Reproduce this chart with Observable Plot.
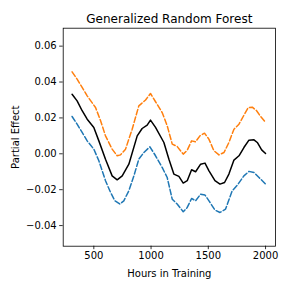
<!DOCTYPE html>
<html>
<head>
<meta charset="utf-8">
<script src="https://cdn.jsdelivr.net/npm/d3@7"></script>
<script src="https://cdn.jsdelivr.net/npm/@observablehq/plot@0.6"></script>
<style>
html,body{margin:0;padding:0;background:#fff;}
</style>
</head>
<body>
<div id="chart"></div>
<script>
const title = "Generalized Random Forest";
const xLabel = "Hours in Training";
const yLabel = "Partial Effect";
const xTicks = [500, 1000, 1500, 2000];
const yTicks = [-0.04, -0.02, 0.00, 0.02, 0.04, 0.06];

const effectX = [310,354,398,442,500,544,602,660,704,748,806,879,922,966,995,1039,1112,1156,1199,1243,1281,1316,1354,1389,1433,1471,1506,1558,1602,1642,1680,1724,1768,1811,1855,1899,1928,1966,2000];
const effectY = [0.0332,0.0295,0.024,0.0193,0.0147,0.0072,-0.003,-0.0123,-0.0145,-0.0123,-0.0058,0.010,0.0141,0.016,0.0188,0.0147,0.0063,-0.003,-0.0113,-0.0126,-0.0163,-0.015,-0.0089,-0.010,-0.0058,-0.0052,-0.0095,-0.015,-0.0169,-0.016,-0.0113,-0.0035,-0.0011,0.0035,0.0076,0.0078,0.0063,0.0022,0.0002];

const upperX = [310,354,398,442,515,559,602,660,704,733,777,835,893,952,995,1039,1097,1141,1185,1228,1281,1316,1354,1389,1427,1467,1505,1549,1593,1637,1680,1724,1768,1811,1849,1884,1922,1957,2000];
const upperY = [0.0457,0.0416,0.037,0.0323,0.0258,0.0184,0.010,0.0026,-0.0011,-0.0006,0.0026,0.0137,0.0267,0.030,0.0336,0.029,0.023,0.0156,0.0054,0.0041,-0.0002,0.002,0.0072,0.0067,0.010,0.0115,0.0082,0.0017,-0.0006,0.0007,0.0063,0.0137,0.0165,0.0215,0.0258,0.026,0.024,0.0208,0.0175];

const lowerX = [310,354,398,442,500,544,602,646,684,727,762,806,850,893,937,990,1039,1097,1141,1185,1228,1281,1316,1354,1389,1433,1471,1506,1558,1602,1651,1709,1753,1811,1855,1899,1943,2000];
const lowerY = [0.0208,0.0165,0.0119,0.0072,0.0026,-0.0039,-0.015,-0.0215,-0.0262,-0.028,-0.0262,-0.0206,-0.0123,-0.003,0.0007,0.0039,-0.0011,-0.0076,-0.0132,-0.0253,-0.028,-0.0323,-0.0299,-0.0249,-0.0262,-0.0225,-0.023,-0.0262,-0.0314,-0.0327,-0.0308,-0.0206,-0.0175,-0.0123,-0.0098,-0.0104,-0.0132,-0.0169];

const toRows = (xs, ys) => xs.map((x, i) => ({x, y: ys[i]}));
const effect = toRows(effectX, effectY);
const upper = toRows(upperX, upperY);
const lower = toRows(lowerX, lowerY);

const fmtY = d3.format(".2f");
const fmtX = d3.format("d");

const chart = Plot.plot({
  width: 288,
  height: 288,
  marginLeft: 62.7,
  marginRight: 13,
  marginTop: 27.7,
  marginBottom: 42.3,
  style: {fontFamily: "DejaVu Sans", fontSize: "10px", color: "#000", background: "#fff"},
  x: {domain: [232.5, 2087]},
  y: {domain: [-0.0515, 0.07]},
  marks: [
    Plot.line(upper, {x: "x", y: "y", stroke: "#ff7f0e", strokeWidth: 1.5, strokeDasharray: "5.55,2.4"}),
    Plot.line(lower, {x: "x", y: "y", stroke: "#1f77b4", strokeWidth: 1.5, strokeDasharray: "5.55,2.4"}),
    Plot.line(effect, {x: "x", y: "y", stroke: "#000", strokeWidth: 1.5}),
    Plot.frame({stroke: "#000", strokeWidth: 0.8}),
    Plot.axisX({ticks: xTicks, tickFormat: fmtX, tickSize: 3.5, tickPadding: 2.5, strokeWidth: 0.8, label: xLabel, labelAnchor: "center", labelArrow: "none", labelOffset: 31, fontSize: 10}),
    Plot.axisY({ticks: yTicks, tickFormat: fmtY, tickSize: 3.5, tickPadding: 3, strokeWidth: 0.8, label: yLabel, labelAnchor: "center", labelArrow: "none", labelOffset: 51, fontSize: 10}),
    Plot.text([title], {frameAnchor: "top", dy: -14, fontSize: 12, fill: "#000"})
  ]
});
document.getElementById("chart").appendChild(chart);
</script>
</body>
</html>
